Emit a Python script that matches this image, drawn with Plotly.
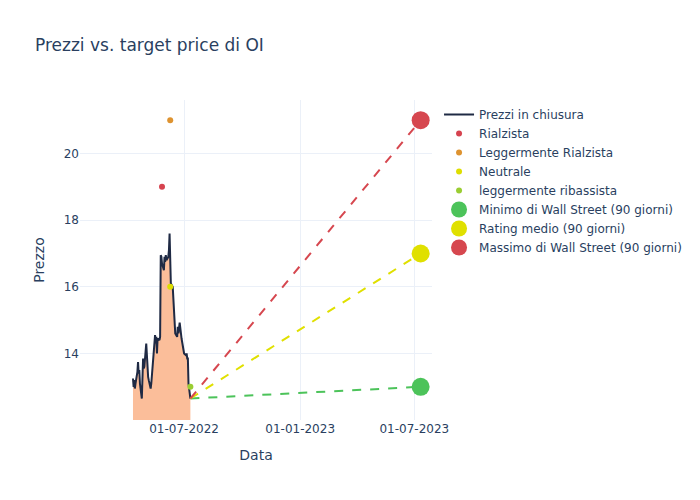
import pandas as pd
import plotly.graph_objects as go

price_dates = list(pd.bdate_range("2022-04-11", "2022-07-11").strftime("%Y-%m-%d"))
price_values = [
    13.25, 13.0, 13.2, 12.95, 13.1,
    13.45, 13.74, 13.4, 13.5, 13.1,
    12.65, 13.5, 13.85, 13.55, 13.6,
    14.3, 13.9, 13.6, 13.3, 13.2,
    12.95, 13.1, 13.4, 13.7, 14.0,
    14.55, 14.3, 14.5, 14.0, 14.45,
    14.4, 14.5, 16.95, 16.9, 16.7,
    16.5, 16.9, 16.75, 16.95, 16.8,
    16.9, 17.1, 17.6, 16.3, 16.1,
    16.0, 15.6, 15.0, 14.7, 14.6,
    14.5, 14.8, 14.6, 14.85, 14.93,
    14.45, 14.3, 14.2, 14.1, 14.0,
    13.95, 14.0, 13.85, 13.85, 13.1,
    12.65,
]

rating_names = ["Rialzista", "Leggermente Rialzista", "Neutrale", "leggermente ribassista"]
rating_dates = ["2022-05-27", "2022-06-09", "2022-06-09", "2022-07-11"]
rating_values = [19.0, 21.0, 16.0, 13.0]
rating_colors = ["#d6434f", "#de9330", "#dede00", "#9acd32"]

target_names = ["Minimo di Wall Street (90 giorni)", "Rating medio (90 giorni)", "Massimo di Wall Street (90 giorni)"]
target_date = "2023-07-11"
target_values = [13.0, 17.0, 21.0]
target_colors = ["#4cc35a", "#e0e000", "#d6474f"]

fig = go.Figure()
fig.add_trace(go.Scatter(x=price_dates, y=price_values, mode="lines", fill="tozeroy",
                         fillcolor="#fbbe9a", line=dict(color="#fbbe9a", width=0),
                         showlegend=False, hoverinfo="skip"))
fig.add_trace(go.Scatter(x=price_dates, y=price_values, mode="lines", name="Prezzi in chiusura",
                         line=dict(color="#1f2a44", width=2)))
for n, d, v, c in zip(rating_names, rating_dates, rating_values, rating_colors):
    fig.add_trace(go.Scatter(x=[d], y=[v], mode="markers", name=n,
                             marker=dict(color=c, size=6)))
for n, v, c in zip(target_names, target_values, target_colors):
    fig.add_trace(go.Scatter(x=[price_dates[-1], target_date], y=[price_values[-1], v], mode="lines",
                             line=dict(color=c, dash="dash", width=2), showlegend=False))
for n, v, c in zip(target_names, target_values, target_colors):
    fig.add_trace(go.Scatter(x=[target_date], y=[v], mode="markers", name=n,
                             marker=dict(color=c, size=18)))

W, H = 692, 492
fig.update_layout(
    template="plotly_white",
    width=W, height=H,
    margin=dict(l=72, r=268, t=92, b=80),
    font=dict(family="DejaVu Sans"),
    title=dict(text="Prezzi vs. target price di OI", x=27 / W, xanchor="left",
               y=1 - 37 / H, yanchor="middle"),
    xaxis=dict(title="Data", range=["2022-01-17", "2023-07-29"], tickformat="%d-%m-%Y",
               dtick="M6", tick0="2022-01-01"),
    yaxis=dict(title="Prezzo", range=[12.005, 21.605]),
)
fig.write_html("out.html")
